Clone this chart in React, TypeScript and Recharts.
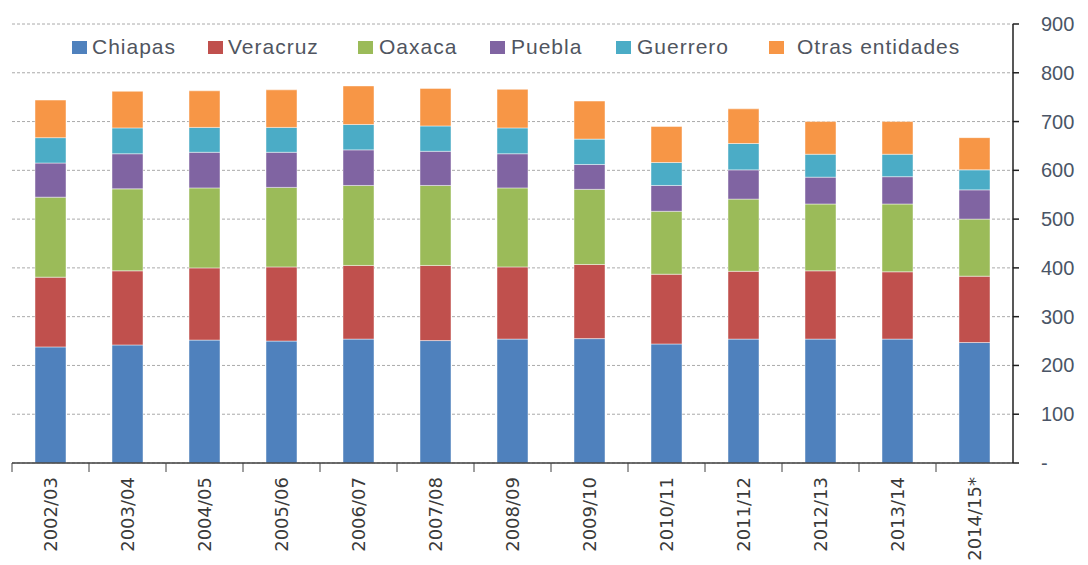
import { BarChart, Bar, XAxis, YAxis, CartesianGrid, Legend } from 'recharts';

const categories = ['2002/03', '2003/04', '2004/05', '2005/06', '2006/07', '2007/08', '2008/09', '2009/10', '2010/11', '2011/12', '2012/13', '2013/14', '2014/15*'];
const chiapas = [238, 242, 252, 250, 254, 251, 254, 255, 244, 254, 254, 254, 247];
const veracruz = [143, 152, 148, 152, 151, 154, 148, 152, 143, 139, 140, 138, 136];
const oaxaca = [164, 168, 164, 163, 164, 164, 162, 154, 129, 148, 137, 139, 117];
const puebla = [70, 72, 73, 72, 73, 70, 70, 51, 53, 60, 55, 56, 60];
const guerrero = [52, 53, 51, 51, 52, 52, 53, 52, 47, 54, 47, 46, 41];
const otras = [77, 75, 75, 77, 79, 77, 79, 78, 74, 71, 67, 67, 66];
const yTicks = [0, 100, 200, 300, 400, 500, 600, 700, 800, 900];

const SERIES = [
  { key: 'Chiapas', color: '#4F81BD' },
  { key: 'Veracruz', color: '#C0504D' },
  { key: 'Oaxaca', color: '#9BBB59' },
  { key: 'Puebla', color: '#8064A2' },
  { key: 'Guerrero', color: '#4BACC6' },
  { key: 'Otras entidades', color: '#F79646' },
];

// legend item offsets (px from legend left) and swatch→text gaps
const LEGEND_LEFTS = [0, 136, 286, 418, 544, 697];
const LEGEND_GAPS = [5, 5, 6, 6, 6, 13];

const data = categories.map((name, i) => ({
  name,
  Chiapas: chiapas[i],
  Veracruz: veracruz[i],
  Oaxaca: oaxaca[i],
  Puebla: puebla[i],
  Guerrero: guerrero[i],
  'Otras entidades': otras[i],
}));

const W = 1088;
const H = 565;
const PLOT_LEFT = 12;
const PLOT_RIGHT = 1013;
const BAND = (PLOT_RIGHT - PLOT_LEFT) / categories.length;

function XTick(props: any) {
  const { x, y, payload } = props;
  const bx = x - BAND / 2;
  return (
    <g>
      <line x1={bx} y1={y - 8} x2={bx} y2={y + 1} stroke="#404040" strokeWidth={1} />
      <text
        x={x}
        y={y + 6}
        transform={`rotate(-90 ${x} ${y + 6})`}
        textAnchor="end"
        dominantBaseline="central"
        fontFamily="DejaVu Sans"
        fontSize={18}
        fill="#3a3a3a"
      >
        {payload.value}
      </text>
    </g>
  );
}

function YTick(props: any) {
  const { x, y, payload } = props;
  return (
    <text x={x} y={y} dominantBaseline="central" textAnchor="start" fontFamily="'Liberation Sans'" fontSize={20} fill="#4a5566">
      {payload.value === 0 ? '-' : payload.value}
    </text>
  );
}

function LegendContent() {
  return (
    <div style={{ position: 'relative', width: 900, height: 24, fontFamily: "'Liberation Sans'", fontSize: 21, color: '#505560', whiteSpace: 'nowrap' }}>
      {SERIES.map((s, i) => (
        <div key={s.key} style={{ position: 'absolute', left: LEGEND_LEFTS[i], top: 0, height: 24, display: 'flex', alignItems: 'center', letterSpacing: 1 }}>
          <span style={{ display: 'inline-block', width: 15, height: 13, background: s.color, marginRight: LEGEND_GAPS[i] }} />
          {s.key}
        </div>
      ))}
    </div>
  );
}

export default function App() {
  return (
    <div style={{ position: 'absolute', left: 0, top: 0, width: W, height: H, background: '#fff' }}>
      <BarChart width={W} height={H} data={data} margin={{ top: 24, right: 0, left: PLOT_LEFT, bottom: 0 }}>
        <CartesianGrid horizontal vertical={false} stroke="#aaaaaa" strokeDasharray="3 2" />
        <XAxis
          dataKey="name"
          height={102}
          interval={0}
          tick={<XTick />}
          tickLine={false}
          axisLine={{ stroke: '#404040', strokeWidth: 1.5 }}
        />
        <YAxis
          orientation="right"
          width={W - PLOT_RIGHT}
          domain={[0, 900]}
          ticks={yTicks}
          interval={0}
          tick={<YTick />}
          tickSize={6}
          tickMargin={22}
          tickLine={{ stroke: '#202020', strokeWidth: 1.5 }}
          axisLine={{ stroke: '#202020', strokeWidth: 1.5 }}
        />
        <Legend
          layout="horizontal"
          verticalAlign="middle"
          align="center"
          content={<LegendContent />}
          wrapperStyle={{ top: 35, left: 72, width: 'auto' }}
        />
        {SERIES.map((s) => (
          <Bar
            key={s.key}
            dataKey={s.key}
            stackId="a"
            fill={s.color}
            stroke="rgba(255,255,255,0.45)"
            strokeWidth={1}
            barSize={31}
            isAnimationActive={false}
          />
        ))}
      </BarChart>
    </div>
  );
}
